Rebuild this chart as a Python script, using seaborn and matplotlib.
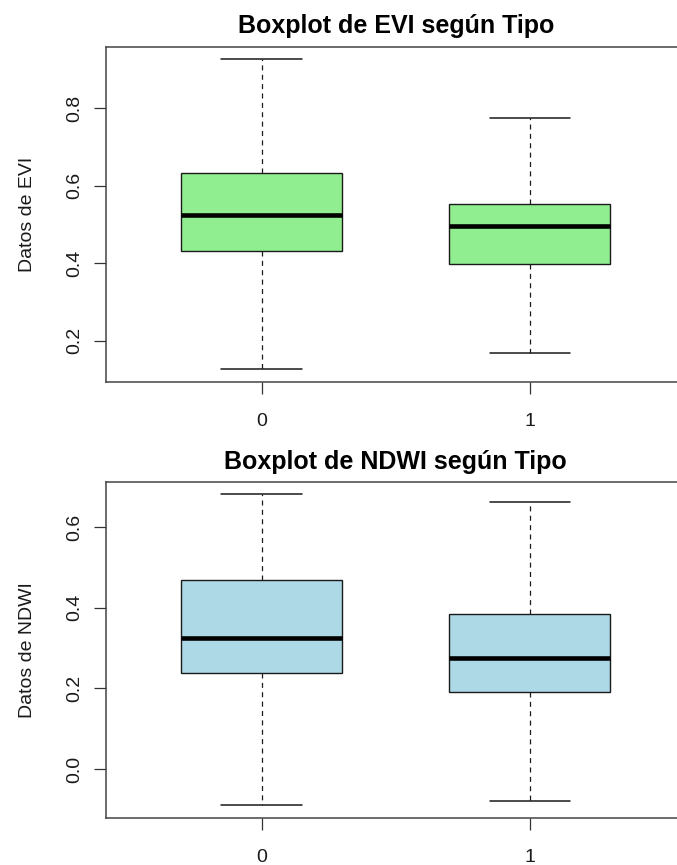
import numpy as np
import pandas as pd
import matplotlib
matplotlib.use("Agg")
import matplotlib.pyplot as plt
import seaborn as sns

# Group labels (Tipo)
tipo = ["0", "1"]

# Five-number summaries of EVI per group
evi_min = [0.127, 0.168]
evi_q1 = [0.431, 0.398]
evi_med = [0.525, 0.497]
evi_q3 = [0.633, 0.553]
evi_max = [0.927, 0.774]

# Five-number summaries of NDWI per group
ndwi_min = [-0.090, -0.079]
ndwi_q1 = [0.238, 0.190]
ndwi_med = [0.324, 0.275]
ndwi_q3 = [0.469, 0.385]
ndwi_max = [0.682, 0.662]

evi_ticks = [0.2, 0.4, 0.6, 0.8]
ndwi_ticks = [0.0, 0.2, 0.4, 0.6]


def summary_frame(mins, q1s, meds, q3s, maxs):
    rows = []
    for g, a, b, c, d, e in zip(tipo, mins, q1s, meds, q3s, maxs):
        for v in (a, b, c, d, e):
            rows.append({"Tipo": g, "valor": v})
    return pd.DataFrame(rows)


sns.set_style("white")
plt.rcParams["font.family"] = ["Liberation Sans", "DejaVu Sans"]

W, H = 677, 865
fig = plt.figure(figsize=(W / 100, H / 100), dpi=100)


def axes_px(left, top, right, bottom):
    return fig.add_axes([left / W, 1 - bottom / H, (right - left) / W, (bottom - top) / H])


ax1 = axes_px(106, 46.5, 685.6, 381.5)
ax2 = axes_px(106, 481.7, 685.6, 817.7)

panels = [
    (ax1, summary_frame(evi_min, evi_q1, evi_med, evi_q3, evi_max), "#90EE90",
     "Boxplot de EVI según Tipo", "Datos de EVI", evi_ticks),
    (ax2, summary_frame(ndwi_min, ndwi_q1, ndwi_med, ndwi_q3, ndwi_max), "#ADD8E6",
     "Boxplot de NDWI según Tipo", "Datos de NDWI", ndwi_ticks),
]

for ax, df, col, title, ylab, ticks in panels:
    sns.boxplot(
        data=df, x="Tipo", y="valor", ax=ax,
        width=0.6, color=col, saturation=1,
        linecolor="#1a1a1a", linewidth=1.0,
        whis=(0, 100), showfliers=False,
        medianprops=dict(linewidth=3.3, color="black"),
        whiskerprops=dict(linestyle=(0, (4, 3.5)), linewidth=0.9),
        capprops=dict(linewidth=1.1),
    )
    lo, hi = df["valor"].min(), df["valor"].max()
    pad = 0.04 * (hi - lo)
    ax.set_ylim(lo - pad, hi + pad)
    ax.set_xlim(-0.58, 1.58)
    ax.set_yticks(ticks)
    ax.set_yticklabels([f"{t:.1f}" for t in ticks], rotation=90, va="center")
    ax.set_xticks([0, 1])
    ax.set_xticklabels(tipo)
    ax.tick_params(axis="both", direction="out", length=8.5, width=0.9,
                   color="#333333", labelsize=14, labelcolor="#1a1a1a")
    ax.tick_params(axis="x", pad=14, bottom=True)
    ax.tick_params(axis="y", pad=8, left=True)
    for s in ax.spines.values():
        s.set_color("#444444")
        s.set_linewidth(1.1)
    ax.set_xlabel("")
    ax.set_ylabel(ylab, fontsize=14, color="#1a1a1a")
    ax.yaxis.set_label_coords(-0.121, 0.5)
    ax.set_title(title, fontsize=18, fontweight="bold", pad=9.5, color="black")
    ax.grid(False)

fig.savefig("out.png", dpi=100)
